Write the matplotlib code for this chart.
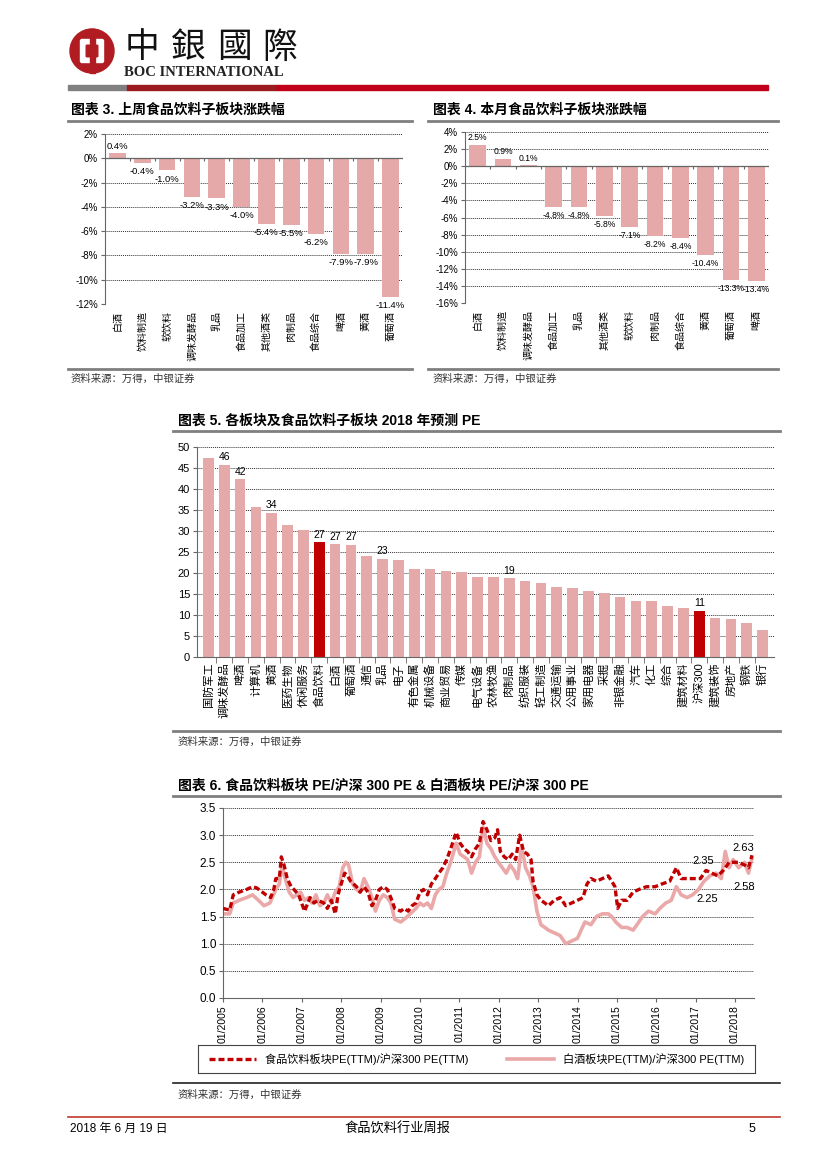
import matplotlib
matplotlib.use('Agg')
import matplotlib.pyplot as plt
from matplotlib.lines import Line2D
from matplotlib.patches import Circle, FancyBboxPatch, Rectangle
import numpy as np

plt.rcParams['font.family'] = ['Liberation Sans', 'Noto Sans CJK SC']
plt.rcParams['axes.unicode_minus'] = False

# ---- 数据 ----
# 图表3 上周涨跌幅 (%)
week_cats = ['白酒', '饮料制造', '软饮料', '调味发酵品', '乳品', '食品加工',
             '其他酒类', '肉制品', '食品综合', '啤酒', '黄酒', '葡萄酒']
week_vals = [0.4, -0.4, -1.0, -3.2, -3.3, -4.0, -5.4, -5.5, -6.2, -7.9, -7.9, -11.4]

# 图表4 本月涨跌幅 (%)
month_cats = ['白酒', '饮料制造', '调味发酵品', '食品加工', '乳品', '其他酒类',
              '软饮料', '肉制品', '食品综合', '黄酒', '葡萄酒', '啤酒']
month_vals = [2.5, 0.9, 0.1, -4.8, -4.8, -5.8, -7.1, -8.2, -8.4, -10.4, -13.3, -13.4]

# 图表5 2018年预测PE
pe_cats = ['国防军工', '调味发酵品', '啤酒', '计算机', '黄酒', '医药生物', '休闲服务',
           '食品饮料', '白酒', '葡萄酒', '通信', '乳品', '电子', '有色金属', '机械设备',
           '商业贸易', '传媒', '电气设备', '农林牧渔', '肉制品', '纺织服装', '轻工制造',
           '交通运输', '公用事业', '家用电器', '采掘', '非银金融', '汽车', '化工', '综合',
           '建筑材料', '沪深300', '建筑装饰', '房地产', '钢铁', '银行']
pe_vals = [47.5, 45.8, 42.3, 35.7, 34.4, 31.4, 30.2, 27.3, 26.8, 26.7, 24.0, 23.4,
           23.2, 21.0, 21.0, 20.5, 20.2, 19.1, 19.1, 18.7, 18.2, 17.7, 16.7, 16.5,
           15.6, 15.2, 14.4, 13.4, 13.3, 12.2, 11.6, 11.0, 9.3, 9.1, 8.1, 6.4]
pe_highlight = ['食品饮料', '沪深300']
pe_labeled = ['调味发酵品', '啤酒', '黄酒', '食品饮料', '白酒', '葡萄酒', '乳品', '肉制品', '沪深300']

# 图表6 相对估值 (年份, 比值)
food_t = [2005.00, 2005.17, 2005.26, 2005.41, 2005.60, 2005.75, 2005.85, 2006.00, 2006.09,
          2006.21, 2006.29, 2006.34, 2006.43, 2006.48, 2006.55, 2006.63, 2006.73, 2006.80,
          2006.92, 2007.02, 2007.07, 2007.21, 2007.31, 2007.41, 2007.56, 2007.65, 2007.75,
          2007.85, 2007.92, 2008.00, 2008.09, 2008.16, 2008.24, 2008.39, 2008.48, 2008.58,
          2008.68, 2008.78, 2008.87, 2008.97, 2009.07, 2009.17, 2009.26, 2009.36, 2009.51,
          2009.60, 2009.70, 2009.80, 2009.90, 2010.00, 2010.09, 2010.19, 2010.29, 2010.39,
          2010.48, 2010.58, 2010.68, 2010.78, 2010.92, 2011.02, 2011.12, 2011.21, 2011.31,
          2011.41, 2011.51, 2011.60, 2011.70, 2011.80, 2011.90, 2011.97, 2012.04, 2012.14,
          2012.24, 2012.34, 2012.43, 2012.53, 2012.63, 2012.73, 2012.82, 2012.87, 2012.97,
          2013.07, 2013.17, 2013.26, 2013.41, 2013.56, 2013.70, 2013.85, 2014.00, 2014.14,
          2014.24, 2014.34, 2014.48, 2014.63, 2014.78, 2014.87, 2014.95, 2015.02, 2015.12,
          2015.26, 2015.41, 2015.56, 2015.75, 2015.97, 2016.14, 2016.34, 2016.51, 2016.63,
          2016.78, 2016.97, 2017.12, 2017.26, 2017.41, 2017.56, 2017.70, 2017.85, 2018.00,
          2018.09, 2018.24, 2018.34, 2018.43]
food_v = [1.65, 1.62, 1.90, 1.95, 2.00, 2.05, 2.03, 1.95, 1.90,
          1.85, 2.00, 2.20, 2.20, 2.60, 2.45, 2.20, 2.05, 2.00,
          1.90, 1.70, 1.60, 1.85, 1.75, 1.80, 1.75, 1.65, 1.80,
          1.55, 1.90, 2.10, 2.30, 2.25, 2.15, 2.05, 1.95, 2.05,
          1.95, 1.70, 1.80, 2.00, 2.05, 2.00, 1.85, 1.65, 1.60,
          1.65, 1.60, 1.70, 1.75, 1.95, 2.00, 1.90, 2.10, 2.20,
          2.30, 2.40, 2.55, 2.75, 3.05, 2.85, 2.75, 2.70, 2.60,
          2.75, 2.85, 3.25, 3.10, 2.90, 2.95, 3.10, 2.70, 2.60,
          2.55, 2.65, 2.55, 3.00, 2.70, 2.65, 2.55, 2.15, 1.90,
          1.80, 1.75, 1.70, 1.80, 1.85, 1.70, 1.75, 1.80, 1.85,
          2.10, 2.20, 2.15, 2.20, 2.25, 2.15, 2.05, 1.65, 1.80,
          1.80, 1.95, 2.00, 2.05, 2.05, 2.10, 2.15, 2.40, 2.20,
          2.20, 2.20, 2.20, 2.35, 2.30, 2.25, 2.35, 2.50, 2.50,
          2.50, 2.45, 2.40, 2.63]

liquor_t = [2005.00, 2005.17, 2005.26, 2005.41, 2005.60, 2005.75, 2005.90, 2006.04, 2006.19,
            2006.34, 2006.43, 2006.50, 2006.58, 2006.68, 2006.78, 2006.87, 2006.97, 2007.07,
            2007.17, 2007.26, 2007.36, 2007.46, 2007.56, 2007.65, 2007.75, 2007.85, 2007.95,
            2008.04, 2008.12, 2008.19, 2008.29, 2008.39, 2008.48, 2008.58, 2008.68, 2008.78,
            2008.87, 2008.97, 2009.07, 2009.17, 2009.26, 2009.36, 2009.51, 2009.60, 2009.75,
            2009.90, 2010.00, 2010.09, 2010.19, 2010.29, 2010.39, 2010.48, 2010.58, 2010.68,
            2010.78, 2010.92, 2011.02, 2011.12, 2011.21, 2011.31, 2011.41, 2011.51, 2011.60,
            2011.70, 2011.80, 2011.90, 2011.99, 2012.09, 2012.19, 2012.29, 2012.39, 2012.48,
            2012.58, 2012.68, 2012.78, 2012.87, 2012.97, 2013.07, 2013.17, 2013.26, 2013.41,
            2013.56, 2013.70, 2013.85, 2014.00, 2014.09, 2014.19, 2014.34, 2014.48, 2014.63,
            2014.78, 2014.87, 2014.97, 2015.12, 2015.26, 2015.41, 2015.51, 2015.65, 2015.80,
            2015.97, 2016.09, 2016.24, 2016.38, 2016.51, 2016.63, 2016.78, 2016.92, 2017.07,
            2017.21, 2017.36, 2017.51, 2017.65, 2017.75, 2017.85, 2017.95, 2018.09, 2018.24,
            2018.34, 2018.43]
liquor_v = [1.55, 1.55, 1.75, 1.80, 1.85, 1.90, 1.80, 1.70, 1.75,
            2.00, 2.10, 2.45, 2.20, 1.95, 1.85, 1.90, 1.95, 1.80,
            1.85, 1.75, 1.90, 1.70, 1.75, 1.90, 1.75, 1.95, 2.05,
            2.40, 2.50, 2.45, 2.10, 2.00, 1.95, 2.20, 2.05, 1.85,
            1.60, 1.80, 1.90, 1.85, 1.75, 1.45, 1.40, 1.45, 1.55,
            1.65, 1.75, 1.70, 1.75, 1.65, 1.90, 2.00, 2.05, 2.30,
            2.50, 2.85, 2.65, 2.60, 2.55, 2.30, 2.50, 2.60, 3.15,
            2.85, 2.75, 2.60, 2.50, 2.40, 2.30, 2.45, 2.35, 2.20,
            2.80, 2.40, 2.25, 2.05, 1.60, 1.35, 1.30, 1.25, 1.20,
            1.15, 1.00, 1.05, 1.10, 1.25, 1.40, 1.35, 1.50, 1.55,
            1.55, 1.50, 1.40, 1.30, 1.30, 1.25, 1.35, 1.50, 1.60,
            1.55, 1.65, 1.75, 1.80, 2.05, 1.90, 1.85, 1.90, 2.00,
            2.15, 2.25, 2.30, 2.20, 2.70, 2.40, 2.55, 2.40, 2.50,
            2.30, 2.58]
rel_years = list(range(2005, 2019))
rel_notes = [(2017.2, 2.35, 7), (2017.3, 2.25, -17), (2018.22, 2.63, 5), (2018.22, 2.58, -21)]

PINK = '#e6a9a9'
RED = '#c00000'
GRAY = '#7f7f7f'
SRC = '资料来源：万得，中银证券'

W, H = 827, 1169
fig = plt.figure(figsize=(W / 100, H / 100), dpi=100)


def px_axes(x0, y0, x1, y1):
    return fig.add_axes([x0 / W, 1 - y1 / H, (x1 - x0) / W, (y1 - y0) / H])


def px_text(x, y, s, **kw):
    fig.text(x / W, 1 - y / H, s, **kw)


def px_line(x0, x1, y, color, lw):
    fig.add_artist(Line2D([x0 / W, x1 / W], [1 - y / H, 1 - y / H], color=color, lw=lw))


# ---- 页眉 ----
logo = px_axes(68, 27, 116, 75)
logo.set_xlim(0, 48)
logo.set_ylim(0, 48)
logo.set_aspect('equal')
logo.axis('off')
logo.add_patch(Circle((24, 24), 22, color='#b01c22'))
logo.add_patch(FancyBboxPatch((14, 14), 20, 20, boxstyle='round,pad=1.5', color='white'))
logo.add_patch(FancyBboxPatch((19, 19), 10, 10, boxstyle='round,pad=0.8', color='#b01c22'))
logo.add_patch(Rectangle((21.5, 2), 5, 44, color='#b01c22'))

for i, ch in enumerate('中銀國際'):
    px_text(142 + i * 46, 48, ch, fontsize=25, family=['Noto Sans CJK TC'],
            ha='center', va='center', color='#111')
px_text(124, 72, 'BOC INTERNATIONAL', fontsize=10.5, family=['Liberation Serif'],
        weight='bold', ha='left', va='center', color='#222')
fig.add_artist(Rectangle((68 / W, 1 - 90 / H), 59 / W, 5 / H, color='#808080'))
fig.add_artist(Rectangle((127 / W, 1 - 90 / H), 150 / W, 5 / H, color='#9b1b1f'))
fig.add_artist(Rectangle((277 / W, 1 - 90 / H), 491 / W, 5 / H, color='#c2001a'))


# ---- 图表3 / 图表4 ----
def sub_bars(rect, cats, vals, ylo, yhi, lab_fs=7):
    ax = px_axes(*rect)
    x = np.arange(len(cats))
    ax.bar(x, vals, width=0.67, color=PINK, zorder=2)
    ax.set_xlim(-0.5, len(cats) - 0.5)
    ax.set_ylim(ylo, yhi)
    ticks = list(range(ylo, yhi + 1, 2))
    ax.set_yticks(ticks)
    ax.set_yticklabels([f'{t}%' for t in ticks], fontsize=7)
    ax.grid(axis='y', ls=(0, (1, 1)), color='#333', lw=0.7)
    ax.set_axisbelow(True)
    for s in ['top', 'right', 'bottom']:
        ax.spines[s].set_visible(False)
    ax.spines['left'].set_color('#666')
    ax.axhline(0, color='#666', lw=0.9, zorder=3)
    ax.vlines(np.arange(len(cats) + 1) - 0.5, -(yhi - ylo) * 0.015, 0, color='#666', lw=0.8, zorder=3)
    ax.set_xticks(x)
    ax.set_xticklabels(cats, rotation=90, fontsize=7.2, va='top')
    ax.tick_params(axis='x', length=0, pad=5)
    ax.tick_params(axis='y', length=3, pad=2, color='#666')
    for xi, v in zip(x, vals):
        off, va = (2, 'bottom') if v >= 0 else (-3, 'top')
        ax.annotate(f'{v:.1f}%', (xi, v), xytext=(0, off), textcoords='offset points',
                    ha='center', va=va, fontsize=lab_fs, zorder=4)
    return ax


px_text(71, 110, '图表 3. 上周食品饮料子板块涨跌幅', fontsize=10, weight='bold', va='center')
px_line(68, 412, 121, GRAY, 2)
sub_bars((105, 134, 403, 304), week_cats, week_vals, -12, 2, lab_fs=6.8)
px_line(68, 412, 369, GRAY, 2)
px_text(71, 379, SRC, fontsize=7.5, va='center', style='italic', color='#333')

px_text(433, 110, '图表 4. 本月食品饮料子板块涨跌幅', fontsize=10, weight='bold', va='center')
px_line(428, 778, 121, GRAY, 2)
sub_bars((465, 132, 769, 303), month_cats, month_vals, -16, 4, lab_fs=6.2)
px_line(428, 778, 369, GRAY, 2)
px_text(433, 379, SRC, fontsize=7.5, va='center', style='italic', color='#333')

# ---- 图表5 ----
px_text(178, 421, '图表 5. 各板块及食品饮料子板块 2018 年预测 PE', fontsize=10, weight='bold', va='center')
px_line(173, 780, 431, GRAY, 2)
ax5 = px_axes(197, 447, 774, 657)
x5 = np.arange(len(pe_cats))
colors5 = [RED if c in pe_highlight else PINK for c in pe_cats]
ax5.bar(x5, pe_vals, width=0.68, color=colors5, zorder=2)
ax5.set_xlim(-0.72, len(pe_cats) - 0.28)
ax5.set_ylim(0, 50)
ax5.set_yticks(range(0, 51, 5))
ax5.tick_params(axis='y', labelsize=8, length=3, pad=2, color='#666')
ax5.grid(axis='y', ls=(0, (1, 1)), color='#333', lw=0.7)
ax5.set_axisbelow(True)
for s in ['top', 'right']:
    ax5.spines[s].set_visible(False)
ax5.spines['left'].set_color('#666')
ax5.spines['bottom'].set_color('#666')
ax5.set_xticks(x5)
ax5.set_xticklabels(pe_cats, rotation=90, fontsize=8, va='top')
ax5.set_xticks(x5[:-1] + 0.5, minor=True)
ax5.tick_params(axis='x', which='major', length=0, pad=4)
ax5.tick_params(axis='x', which='minor', length=4, color='#666')
for xi, c, v in zip(x5, pe_cats, pe_vals):
    if c in pe_labeled:
        ax5.annotate(f'{v:.0f}', (xi, v), xytext=(0, 2), textcoords='offset points',
                     ha='center', va='bottom', fontsize=7.5)
px_line(173, 780, 731, GRAY, 2)
px_text(178, 742, SRC, fontsize=7.5, va='center', style='italic', color='#333')

# ---- 图表6 ----
px_text(178, 786, '图表 6. 食品饮料板块 PE/沪深 300 PE & 白酒板块 PE/沪深 300 PE',
        fontsize=10, weight='bold', va='center')
px_line(173, 780, 796, GRAY, 2)
ax6 = px_axes(223, 808, 754, 998)
l_liq, = ax6.plot(liquor_t, liquor_v, color='#eba8a8', lw=2.6, zorder=2)
l_food, = ax6.plot(food_t, food_v, color=RED, lw=2.4, dashes=(1.8, 0.9), zorder=3)
ax6.set_xlim(2005.0, 2018.48)
ax6.set_ylim(0, 3.5)
ax6.set_yticks(np.arange(0, 3.51, 0.5))
ax6.set_yticklabels([f'{t:.1f}' for t in np.arange(0, 3.51, 0.5)], fontsize=8.5)
ax6.set_xticks(rel_years)
ax6.set_xticklabels([f'01/{y}' for y in rel_years], rotation=90, fontsize=7.5)
ax6.tick_params(axis='both', length=3, pad=2, color='#666')
ax6.grid(axis='y', ls=(0, (1, 1)), color='#333', lw=0.7)
ax6.set_axisbelow(True)
for s in ['top', 'right']:
    ax6.spines[s].set_visible(False)
ax6.spines['left'].set_color('#666')
ax6.spines['bottom'].set_color('#666')
for t, v, off in rel_notes:
    ax6.annotate(f'{v:.2f}', (t, v), xytext=(0, off), textcoords='offset points',
                 ha='center', va='center', fontsize=8)

lax = px_axes(198, 1045, 755, 1073)
lax.set_xticks([])
lax.set_yticks([])
for s in lax.spines.values():
    s.set_color('#444')
    s.set_linewidth(0.8)
lax.legend([l_food, l_liq], ['食品饮料板块PE(TTM)/沪深300 PE(TTM)', '白酒板块PE(TTM)/沪深300 PE(TTM)'],
           loc='center', ncol=2, frameon=False, fontsize=8, handlelength=4.2,
           columnspacing=3.5, handletextpad=0.8)
px_line(173, 780, 1083, '#222', 1.2)
px_text(178, 1095, SRC, fontsize=7.5, va='center', style='italic', color='#333')

# ---- 页脚 ----
px_line(68, 780, 1117, '#c0392b', 1.2)
px_text(70, 1129, '2018 年 6 月 19 日', fontsize=8.5, va='center')
px_text(397, 1129, '食品饮料行业周报', fontsize=9.5, va='center', ha='center')
px_text(752, 1129, '5', fontsize=9, va='center', ha='center')

fig.savefig('out.png', dpi=100)
